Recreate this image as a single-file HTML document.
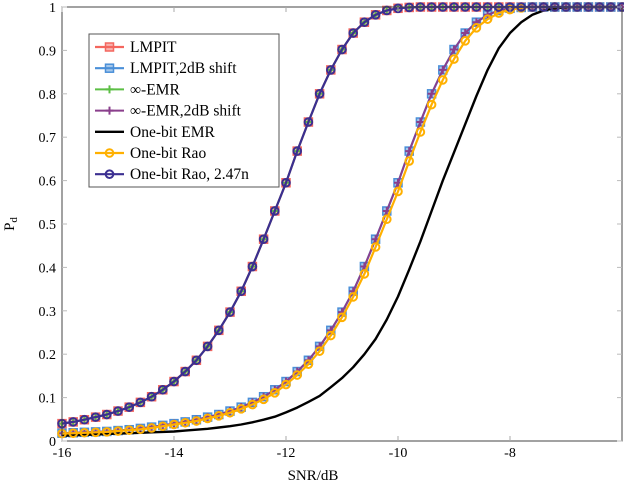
<!DOCTYPE html>
<html><head><meta charset="utf-8"><style>
body{margin:0;background:#fff;}
svg, svg text{font-family:"Liberation Serif","Times New Roman",serif;}
</style></head><body>
<svg id="chart" width="624" height="490" viewBox="0 0 624 490" xmlns="http://www.w3.org/2000/svg" font-family="Liberation Serif, serif">
<g id="grid"></g>
<g id="series"></g>
<rect x="62" y="7" width="560" height="434" fill="none" stroke="#444" stroke-width="1"/>
<g id="axes"></g>
<text x="313" y="480" font-size="15" text-anchor="middle" font-family="Liberation Serif, serif">SNR/dB</text>
<text transform="translate(14,224) rotate(-90)" font-size="15" text-anchor="middle" font-family="Liberation Serif, serif">P<tspan font-size="11" dy="3">d</tspan></text>
<g id="legend"></g>
</svg>
<script>
const xTicks=[-16,-14,-12,-10,-8];
const yTicks=[0,0.1,0.2,0.3,0.4,0.5,0.6,0.7,0.8,0.9,1];
const yTickLabels=["0","0.1","0.2","0.3","0.4","0.5","0.6","0.7","0.8","0.9","1"];
const snr=[-16,-15.8,-15.6,-15.4,-15.2,-15,-14.8,-14.6,-14.4,-14.2,-14,-13.8,-13.6,-13.4,-13.2,-13,-12.8,-12.6,-12.4,-12.2,-12,-11.8,-11.6,-11.4,-11.2,-11,-10.8,-10.6,-10.4,-10.2,-10,-9.8,-9.6,-9.4,-9.2,-9,-8.8,-8.6,-8.4,-8.2,-8,-7.8,-7.6,-7.4,-7.2,-7,-6.8,-6.6,-6.4,-6.2,-6];
const leftCurve=[0.04,0.044,0.049,0.055,0.061,0.069,0.078,0.089,0.102,0.118,0.137,0.16,0.186,0.218,0.255,0.297,0.345,0.402,0.465,0.53,0.595,0.668,0.735,0.8,0.855,0.902,0.94,0.965,0.982,0.992,0.997,0.999,1,1,1,1,1,1,1,1,1,1,1,1,1,1,1,1,1,1,1];
const shiftCurve=[0.018,0.019,0.02,0.021,0.022,0.024,0.026,0.029,0.032,0.036,0.04,0.044,0.049,0.055,0.061,0.069,0.078,0.089,0.102,0.118,0.137,0.16,0.186,0.218,0.255,0.297,0.345,0.402,0.465,0.53,0.595,0.668,0.735,0.8,0.855,0.902,0.94,0.965,0.982,0.992,0.997,0.999,1,1,1,1,1,1,1,1,1];
const raoCurve=[0.017,0.018,0.019,0.02,0.021,0.023,0.025,0.027,0.03,0.034,0.038,0.042,0.046,0.052,0.058,0.065,0.074,0.084,0.096,0.111,0.13,0.152,0.177,0.207,0.243,0.285,0.332,0.385,0.447,0.511,0.575,0.645,0.712,0.775,0.832,0.88,0.922,0.952,0.972,0.986,0.994,0.998,1,1,1,1,1,1,1,1,1];
const oneBitEmr=[0.012,0.013,0.014,0.015,0.016,0.017,0.018,0.019,0.02,0.021,0.022,0.024,0.026,0.028,0.031,0.034,0.038,0.043,0.049,0.056,0.066,0.077,0.09,0.104,0.124,0.145,0.17,0.2,0.235,0.28,0.333,0.395,0.46,0.53,0.6,0.665,0.73,0.795,0.855,0.905,0.94,0.965,0.982,0.992,0.997,0.999,1,1,1,1,1];
const seriesNames=["LMPIT","LMPIT,2dB shift","∞-EMR","∞-EMR,2dB shift","One-bit EMR","One-bit Rao","One-bit Rao, 2.47n"];

const NS="http://www.w3.org/2000/svg";
const FONT="Liberation Serif, serif";
const X=v=>62+(v+16)*56;
const Y=v=>441-v*434;
function mk(tag,attrs,parent){const e=document.createElementNS(NS,tag);for(const k in attrs)e.setAttribute(k,attrs[k]);parent.appendChild(e);return e;}
const axes=document.getElementById('axes'),ser=document.getElementById('series'),leg=document.getElementById('legend');

xTicks.forEach(t=>{
  const l=mk('line',{x1:X(t),x2:X(t),y1:441,y2:436,stroke:'#aaa'},axes);
  
  
  const l2=mk('line',{x1:X(t),x2:X(t),y1:7,y2:12,stroke:'#aaa'},axes);
  
  
  const tx=mk('text',{x:X(t),y:457,'font-size':14,'text-anchor':'middle','font-family':FONT},axes);
  tx.textContent=String(t);
  
  
});
yTicks.forEach((t,i)=>{
  const l=mk('line',{x1:62,x2:67,y1:Y(t),y2:Y(t),stroke:'#bbb'},axes);
  
  
  const l2=mk('line',{x1:617,x2:622,y1:Y(t),y2:Y(t),stroke:'#bbb'},axes);
  
  
  const tx=mk('text',{x:56,y:Y(t)+5,'font-size':14,'text-anchor':'end','font-family':FONT},axes);
  tx.textContent=yTickLabels[i];
  
  
});

function marker(type,color,x,y,g){
  if(type==='square')return mk('rect',{x:x-4,y:y-4,width:8,height:8,fill:color,'fill-opacity':0.5,stroke:color,'stroke-width':1.5},g);
  if(type==='plus')return mk('path',{d:`M${x-4},${y}H${x+4}M${x},${y-4}V${y+4}`,stroke:color,'stroke-width':2,fill:'none'},g);
  if(type==='circle')return mk('circle',{cx:x,cy:y,r:3.8,fill:'none',stroke:color,'stroke-width':2},g);
}
const styles=[
 {data:leftCurve,color:'#f4665e',m:'square',w:2.2},
 {data:shiftCurve,color:'#4a8fd8',m:'square',w:2.2},
 {data:leftCurve,color:'#5cbf45',m:'plus',w:2},
 {data:shiftCurve,color:'#8a3f8c',m:'plus',w:2},
 {data:oneBitEmr,color:'#000',m:null,w:2.4},
 {data:raoCurve,color:'#ffb000',m:'circle',w:2.2},
 {data:leftCurve,color:'#3b2f91',m:'circle',w:2.2}
];
styles.forEach((s,si)=>{
  const g=mk('g',{},ser);
  
  
  const d=snr.map((v,i)=>(i?'L':'M')+X(v).toFixed(1)+','+Y(s.data[i]).toFixed(1)).join('');
  const p=mk('path',{d:d,fill:'none',stroke:s.color,'stroke-width':s.w,'stroke-linejoin':'round'},g);
  
  
  if(s.m)snr.forEach((v,i)=>{
    const m=marker(s.m,s.color,X(v),Y(s.data[i]),g);
    
    
  });
});

const box=mk('rect',{x:89,y:34,width:190,height:153,fill:'#fff',stroke:'#555','stroke-width':1},leg);


styles.forEach((s,i)=>{
  const y=47+i*21.2;
  const g=mk('g',{},leg);
  
  
  mk('line',{x1:95,x2:124,y1:y,y2:y,stroke:s.color,'stroke-width':s.w},g);
  if(s.m)marker(s.m,s.color,109.5,y,g);
  const t=mk('text',{x:130,y:y+5,'font-size':15.5,'font-family':FONT},g);
  t.textContent=seriesNames[i];
});
</script>
</body></html>
